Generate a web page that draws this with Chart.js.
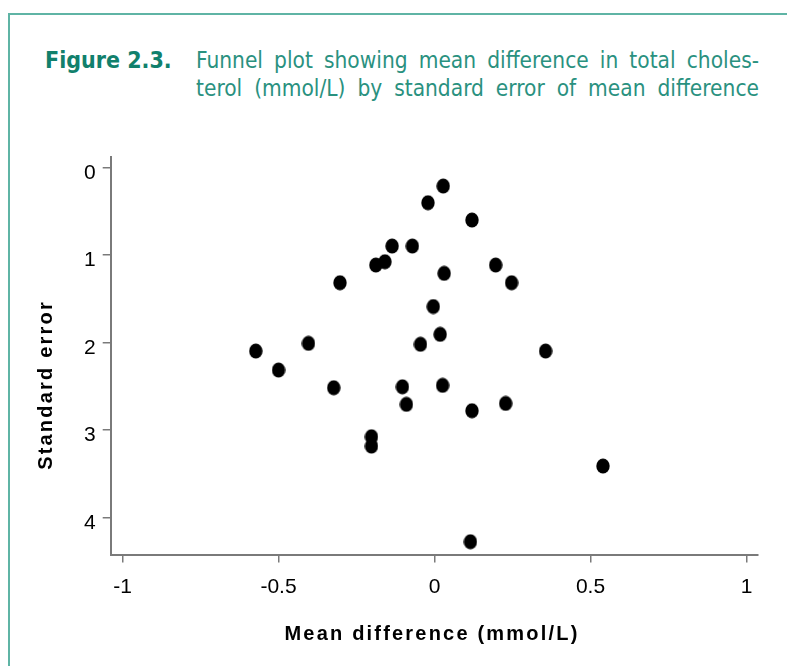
<!DOCTYPE html>
<html>
<head>
<meta charset="utf-8">
<script src="https://cdn.jsdelivr.net/npm/chart.js@4.4.1/dist/chart.umd.min.js"></script>
<style>
  html, body { margin:0; padding:0; background:#fff; }
  #wrap { position:relative; width:787px; height:666px; overflow:hidden; background:#fff; }
  #frame { position:absolute; left:8px; top:13px; width:900px; height:800px;
           border-left:2px solid #5fb4a5; border-top:2px solid #5fb4a5; }
  #figlabel { position:absolute; left:45px; top:46px; font-family:"DejaVu Sans Condensed","DejaVu Sans",sans-serif;
              font-weight:bold; font-size:23px; color:#11806c; white-space:nowrap; line-height:28px; }
  .tline { position:absolute; left:196px; width:563px; font-family:"DejaVu Sans Condensed","DejaVu Sans",sans-serif;
           font-size:22.5px; color:#2a917f; white-space:nowrap; line-height:28px; }
  #c { position:absolute; left:0; top:0; }
</style>
</head>
<body>
<div id="wrap">
  <div id="frame"></div>
  <div id="figlabel">Figure 2.3.</div>
  <div class="tline" id="t1" style="top:46px;"><span>Funnel plot showing mean difference in total choles-</span></div>
  <div class="tline" id="t2" style="top:74px;"><span>terol (mmol/L) by standard error of mean difference</span></div>
  <canvas id="c" width="787" height="666"></canvas>
</div>
<script>
// ---- data ----
const meanDifference = [0.028, -0.021, 0.120, -0.136, -0.071, -0.188, -0.159, 0.196, 0.031, -0.303,
                        0.247, -0.004, 0.018, -0.573, -0.404, -0.045, 0.356, -0.500, -0.323, -0.103,
                        0.026, -0.090, 0.120, 0.228, -0.202, -0.202, 0.540, 0.115];
const standardError = [0.209, 0.400, 0.598, 0.895, 0.895, 1.112, 1.074, 1.112, 1.207, 1.314,
                       1.314, 1.586, 1.904, 2.095, 2.007, 2.018, 2.095, 2.312, 2.514, 2.503,
                       2.487, 2.704, 2.777, 2.693, 3.074, 3.181, 3.409, 4.274];
const xTickValues = [-1, -0.5, 0, 0.5, 1];
const yTickValues = [0, 1, 2, 3, 4];
const xAxisTitle = "Mean difference (mmol/L)";
const yAxisTitle = "Standard error";

// justify title lines
['t1','t2'].forEach(id => {
  const d = document.getElementById(id);
  const s = d.querySelector('span');
  const txt = s.textContent;
  const n = (txt.match(/ /g) || []).length;
  const w = s.getBoundingClientRect().width;
  const target = 563;
  if (n > 0) s.style.wordSpacing = ((target - w) / n) + 'px';
});

// elliptical marker
const marker = document.createElement('canvas');
marker.width = 14; marker.height = 16;
(function(){
  const m = marker.getContext('2d');
  m.fillStyle = '#000';
  m.beginPath();
  m.ellipse(7, 8, 6.7, 7.5, 0, 0, Math.PI * 2);
  m.fill();
})();

const points = meanDifference.map((x, i) => ({ x: x, y: standardError[i] }));

const axisTitlePlugin = {
  id: 'axisTitles',
  afterDraw(chart) {
    const ctx = chart.ctx;
    ctx.save();
    ctx.fillStyle = '#000';
    ctx.font = 'bold 20px "Liberation Sans", Arial, sans-serif';
    ctx.letterSpacing = '2.2px';
    ctx.textAlign = 'center';
    ctx.textBaseline = 'middle';
    ctx.fillText(xAxisTitle, 432, 634);
    ctx.translate(46, 385);
    ctx.rotate(-Math.PI / 2);
    ctx.fillText(yAxisTitle, 0, 0);
    ctx.restore();
  }
};

const axisColor = '#7a7a7a';
const tickFont = { family: '"Liberation Sans", Arial, sans-serif', size: 21 };

new Chart(document.getElementById('c'), {
  type: 'scatter',
  data: {
    datasets: [{
      data: points,
      pointStyle: marker,
      backgroundColor: '#000',
      borderColor: '#000'
    }]
  },
  options: {
    responsive: false,
    animation: false,
    devicePixelRatio: 1,
    layout: { padding: { left: 0, top: 156.7, right: 29.3, bottom: 0 } },
    plugins: { legend: { display: false }, tooltip: { enabled: false }, title: { display: false } },
    scales: {
      x: {
        type: 'linear',
        min: -1.038, max: 1.036,
        afterBuildTicks: s => { s.ticks = xTickValues.map(v => ({ value: v })); },
        afterFit: s => { s.height = 111.5; },
        grid: { drawOnChartArea: false, drawTicks: true, tickLength: 8, color: axisColor, lineWidth: 1.5 },
        border: { display: true, color: axisColor, width: 2 },
        ticks: { color: '#000', font: tickFont, padding: 12, maxRotation: 0,
                 callback: v => String(v) },
        title: { display: false }
      },
      y: {
        type: 'linear',
        reverse: true,
        min: -0.126, max: 4.42,
        afterBuildTicks: s => { s.ticks = yTickValues.map(v => ({ value: v })); },
        afterFit: s => { s.width = 110.7; },
        grid: { drawOnChartArea: false, drawTicks: true, tickLength: 8, color: axisColor, lineWidth: 1.5 },
        border: { display: true, color: axisColor, width: 2 },
        ticks: { color: '#000', font: tickFont, padding: 7, labelOffset: 5,
                 callback: v => String(v) },
        title: { display: false }
      }
    }
  },
  plugins: [axisTitlePlugin]
});
</script>
</body>
</html>
